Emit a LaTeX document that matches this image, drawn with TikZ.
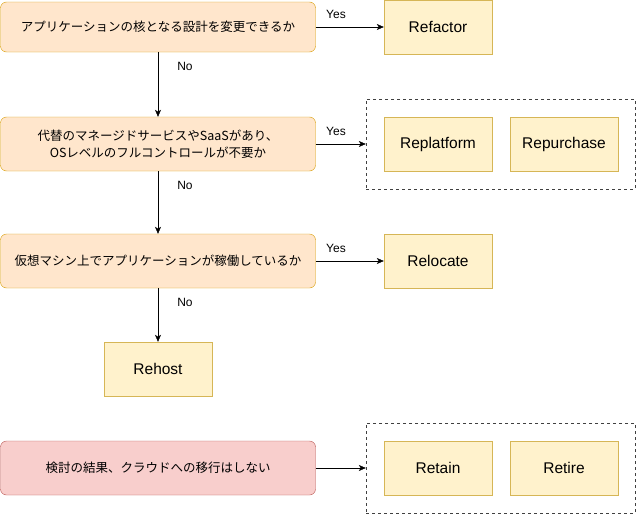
\documentclass[tikz,border=0pt]{standalone}
\usepackage{fontspec}
\setmainfont{Liberation Sans}
\newfontfamily\jpfont{Noto Sans CJK JP}
\usetikzlibrary{arrows.meta}
\definecolor{askfill}{HTML}{FFE6CC}
\definecolor{askdraw}{HTML}{D79B00}
\definecolor{endfill}{HTML}{F8CECC}
\definecolor{enddraw}{HTML}{B85450}
\definecolor{resfill}{HTML}{FFF2CC}
\definecolor{resdraw}{HTML}{D6B656}
\begin{document}
\begin{tikzpicture}[x=1pt,y=-1pt]
    \tikzset{ask/.style={rectangle, rounded corners=6pt, draw=askdraw, fill=askfill, minimum width=315pt, minimum height=54pt, inner sep=0pt, align=center, font=\jpfont\fontsize{12.5}{17}\selectfont}}
    \tikzset{result/.style={rectangle, draw=resdraw, fill=resfill, minimum width=108pt, minimum height=54pt, inner sep=0pt, font=\fontsize{15.5}{18}\selectfont}}
    \tikzset{group/.style={rectangle, draw=black!75, dashed, minimum width=269pt, minimum height=90pt}}
    \tikzset{answer/.style={inner sep=0pt, font=\fontsize{12}{14}\selectfont}}
    \tikzset{line/.style={draw, -{Stealth[length=7pt, width=6pt, inset=2pt]}}}
    \useasboundingbox (0,0) rectangle (637,514);

    \node[ask, minimum height=50pt] (q1) at (158,27) {アプリケーションの核となる設計を変更できるか};
    \node[ask] (q2) at (158,144) {代替のマネージドサービスやSaaSがあり、\\OSレベルのフルコントロールが不要か};
    \node[ask] (q3) at (158,261) {仮想マシン上でアプリケーションが稼働しているか};
    \node[ask, draw=enddraw, fill=endfill] (q4) at (158,468) {検討の結果、クラウドへの移行はしない};

    \node[result] (refactor) at (438,27) {Refactor};
    \node[group] (g1) at (500.5,144) {};
    \node[result] (replatform) at (438,144) {Replatform};
    \node[result] (repurchase) at (564,144) {Repurchase};
    \node[result] (relocate) at (438,261) {Relocate};
    \node[result] (rehost) at (158,369) {Rehost};
    \node[group] (g2) at (500.5,468) {};
    \node[result] (retain) at (438,468) {Retain};
    \node[result] (retire) at (564,468) {Retire};

    \node[answer] (yes1) at (336,14) {Yes};
    \node[answer] (yes2) at (336,131) {Yes};
    \node[answer] (yes3) at (336,248) {Yes};
    \node[answer] (no1) at (185,66) {No};
    \node[answer] (no2) at (185,185) {No};
    \node[answer] (no3) at (185,302) {No};

    \draw[line] (q1) -- (refactor);
    \draw[line] (q2) -- (g1);
    \draw[line] (q3) -- (relocate);
    \draw[line] (q4) -- (g2);
    \draw[line] (q1) -- (q2);
    \draw[line] (q2) -- (q3);
    \draw[line] (q3) -- (rehost);
\end{tikzpicture}
\end{document}
